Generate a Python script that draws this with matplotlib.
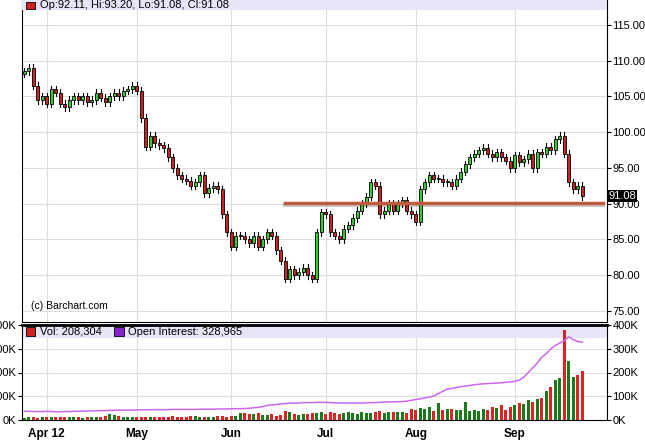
import matplotlib
matplotlib.use("Agg")
import matplotlib.pyplot as plt
import numpy as np
from matplotlib.patches import Rectangle

plt.rcParams['font.family'] = ['Liberation Sans', 'DejaVu Sans']

closes = [108.5,109,106.5,104.5,105, 104,106,105.5,104,103.5, 104.5,105,104.5,105,104.2,
          104.5,105.5,104.8,104.2,105, 105.5,105,105.8,106,106.5, 105.8,102,98,99.5,98.5,
          98.2,97.8,96.5,95,94, 93.5,93.2,92.5,93,94, 91.5,92.2,92.5,92,88.5,
          86,84,85.5,85.5,85, 84.5,85.5,84,85,86, 85.5,83.5,82,79.5,80.8,
          80,80.5,81,80,79.5, 86,88.8,88.5,86,85.5, 85,86.5,87,88,89,
          90,91,93,92.5,88.5, 89,90,89,90,90.5, 89,88.5,87.5,92,93,
          94,93.5,93.5,93,93, 92.5,93.5,94.5,95.5,96.5, 97,97.5,97.8,97,96.5,
          97.2,96.5,96,95,96.8, 95.8,96.2,97,95,97.2, 97,98,97.5,99,99.5,
          97,93,92,92.5,91.08]
first_open = 108.2
volume = [8,9,10,8,11, 9,12,10,9,10, 12,11,9,
          8,9,12,10,9, 15,22,18,14,12, 11,10,12,9,10, 11,10,9,12,10,
          14,12,11,10,16, 13,12,10,12,11, 14,13,12,15,16, 26,28,25,24,27,
          20,18,22,16,20, 35,32,22,20,25, 24,28,26,34,25, 32,28,24,27,30,
          26,25,30,28,27,
          33,36,28,30,32, 32,34,28,45,42, 48,45,55,38,70, 42,44,45,42,40,
          75,38,40,38,44, 42,52,48,60,40, 52,62,72,68,85, 76,88,92,120,140,
          170,175,380,250,180, 190,208]
oi = [35,35,34,34,34, 35,34,33,33,34, 34,35,35,36,36, 37,37,38,38,39, 39,40,40,40,40,
      41,41,41,42,42, 42,42,42,43,43, 43,43,43,43,44, 44,44,44,45,45,
      45,46,46,46,47, 48,50,52,55,60, 62,64,66,68,70, 70,70,72,72,72,
      73,73,73,72,71, 70,70,70,70,70, 70,71,72,72,73, 74,75,75,76,76,
      78,82,85,88,92, 95,100,110,120,130, 132,136,140,142,145, 148,150,152,153,154,
      155,156,158,160,162, 168,180,200,220,240, 265,280,300,315,325,
      335,352,340,332,329]
vol_up = [False, True, True, False, False]  # colours of the last five volume bars
month_labels = ["Apr 12","May","Jun","Jul","Aug","Sep"]
month_days = [5,25,46,67,87,109]
price_ticks = [75,80,85,90,95,100,105,110,115]
support = 90.1

opens = [first_open] + closes[:-1]
n = len(closes)
up = [c >= o for o, c in zip(opens, closes)]
GREEN, RED = "#33cc33", "#cc2222"

fig = plt.figure(figsize=(6.45, 4.47), dpi=100)
ax = fig.add_axes([22/645, 1-322/447, 585/645, 322/447])
av = fig.add_axes([22/645, 1-420/447, 585/645, 95/447])
xlim = (-0.5, 129.5)

for i in range(n):
    o, c = opens[i], closes[i]
    lo, hi = min(o, c), max(o, c)
    ax.plot([i, i], [lo-0.5, hi+0.5], color="black", lw=0.8, zorder=2)
    h = max(hi-lo, 0.12)
    ax.add_patch(Rectangle((i-0.35, lo), 0.7, h, facecolor=GREEN if up[i] else RED,
                           edgecolor="black", lw=0.6, zorder=3))
ax.plot([58, 128.5], [support-0.25, support-0.25], color="#999999", lw=3, alpha=0.5, zorder=1)
ax.plot([58, 128.5], [support, support], color="#bf5a40", lw=2.5, zorder=4)
ax.set_xlim(*xlim)
ax.set_ylim(73.45, 118.5)
ax.yaxis.tick_right()
ax.set_yticks(price_ticks)
ax.set_yticklabels([f"{t:.2f}" for t in price_ticks], fontsize=8)
ax.set_xticks(month_days)
ax.set_xticklabels([])
ax.tick_params(axis="x", length=0)
ax.tick_params(axis="y", length=3, pad=1)
ax.grid(True, color="#dddddd", lw=0.8)
ax.set_axisbelow(True)
ax.spines["top"].set_visible(False)
ax.add_patch(Rectangle((0, 0.968), 1, 0.032, transform=ax.transAxes, facecolor="#e6e6f8",
                       edgecolor="none", zorder=5))
ax.add_patch(Rectangle((0.006, 0.973), 0.016, 0.022, transform=ax.transAxes, facecolor=RED,
                       edgecolor="black", lw=0.6, zorder=6))
ax.text(0.03, 0.984, "Op:92.11, Hi:93.20, Lo:91.08, Cl:91.08", transform=ax.transAxes,
        fontsize=8, va="center", zorder=6)
ax.text(0.015, 0.035, "(c) Barchart.com", transform=ax.transAxes, fontsize=7.5, va="bottom")
ax.text(1.002, (91.08-73.45)/(118.5-73.45), "91.08", transform=ax.transAxes, fontsize=8,
        va="center", ha="left", color="white", bbox=dict(facecolor="black", pad=0.5, edgecolor="none"))

m = len(volume)
vcols = ["#1a7a1a" if u else "#dd2222" for u in up[:m-5] + vol_up]
av.bar(np.arange(m), volume, width=0.6, color=vcols, zorder=3)
av.plot(np.arange(len(oi)), oi, color="#cc66ee", lw=1.1, zorder=4)
av.set_xlim(*xlim)
av.set_ylim(-2, 402)
av.set_yticks([0,100,200,300,400])
av.set_yticklabels(["0K","100K","200K","300K","400K"], fontsize=8)
av.tick_params(axis="y", labelleft=True, labelright=True, right=True, length=3, pad=1)
av.set_xticks(month_days)
av.set_xticklabels(month_labels, fontsize=8.5, fontweight="bold")
av.tick_params(axis="x", length=0, pad=6)
av.grid(True, color="#dddddd", lw=0.8)
av.set_axisbelow(True)
av.spines["top"].set_linewidth(2)
av.add_patch(Rectangle((0, 0.86), 1, 0.14, transform=av.transAxes, facecolor="#e6e6f8",
                       edgecolor="none", zorder=1))
av.add_patch(Rectangle((0.006, 0.88), 0.016, 0.1, transform=av.transAxes, facecolor=RED,
                       edgecolor="black", lw=0.6, zorder=6))
av.text(0.03, 0.93, "Vol: 208,304", transform=av.transAxes, fontsize=8, va="center", zorder=6)
av.add_patch(Rectangle((0.158, 0.88), 0.016, 0.1, transform=av.transAxes, facecolor="#8822cc",
                       edgecolor="black", lw=0.6, zorder=6))
av.text(0.182, 0.93, "Open Interest: 328,965", transform=av.transAxes, fontsize=8, va="center", zorder=6)

fig.savefig("out.png", dpi=100)
